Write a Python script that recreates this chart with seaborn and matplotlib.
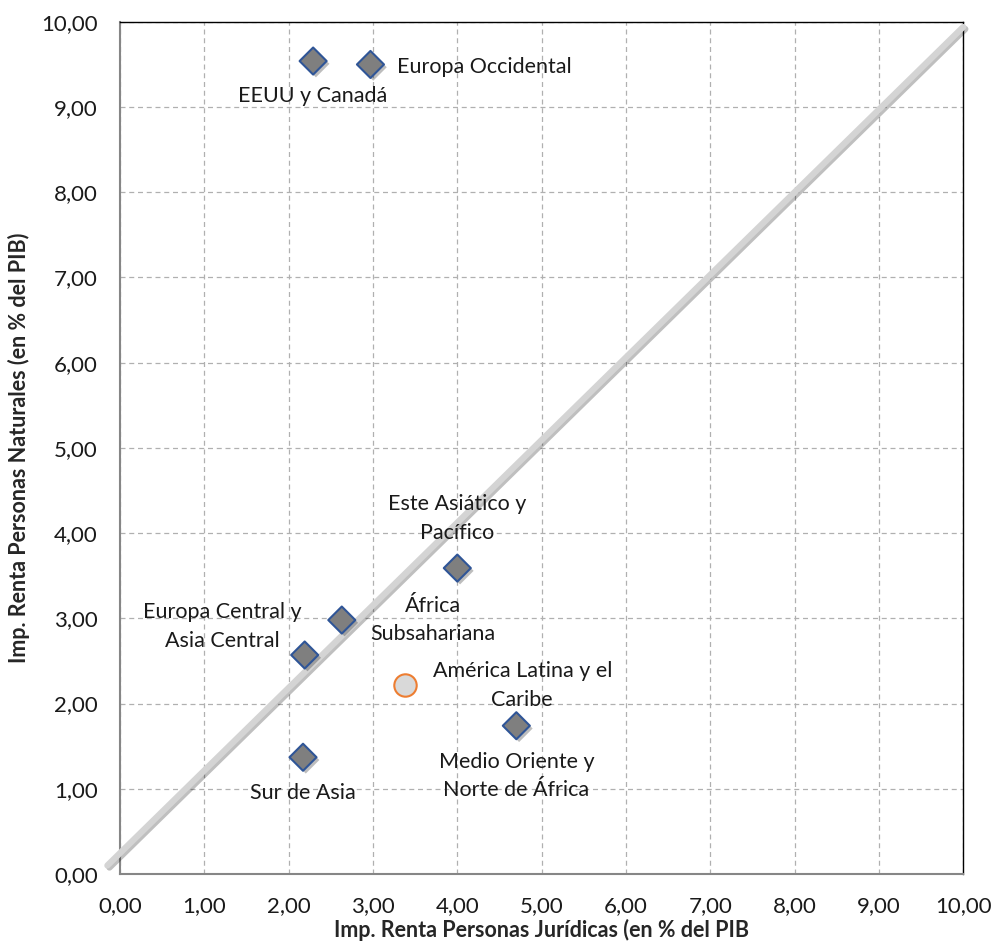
import numpy as np
import pandas as pd
import seaborn as sns
import matplotlib.pyplot as plt
import matplotlib.patheffects as pe
from matplotlib.ticker import FuncFormatter, MultipleLocator

# datos por region (% del PIB)
regiones = ["EEUU y Canadá", "Europa Occidental", "Este Asiático y\nPacífico",
            "África\nSubsahariana", "Europa Central y\nAsia Central",
            "América Latina y el\nCaribe", "Medio Oriente y\nNorte de África",
            "Sur de Asia"]
renta_juridicas = [2.29, 2.97, 4.00, 2.63, 2.19, 3.38, 4.70, 2.17]
renta_naturales = [9.54, 9.50, 3.59, 2.98, 2.57, 2.22, 1.74, 1.37]
grupo = ["otros", "otros", "otros", "otros", "otros", "alc", "otros", "otros"]

# posicion de las etiquetas
lab_x = [2.29, 3.29, 4.00, 3.71, 1.21, 4.77, 4.70, 2.17]
lab_y = [9.13, 9.47, 4.17, 2.98, 2.90, 2.21, 1.15, 0.95]
lab_ha = ["center", "left", "center", "center", "center", "center", "center", "center"]

# linea diagonal
diag_x = [-0.15, 10.0]
diag_y = [0.10, 9.94]

df = pd.DataFrame({"region": regiones, "pj": renta_juridicas,
                   "pn": renta_naturales, "grupo": grupo})

sns.set_style("white")
plt.rcParams['font.family'] = ['Lato', 'DejaVu Sans']

fig = plt.figure(figsize=(9.92, 9.5), dpi=100)
ax = fig.add_axes([0.121, 0.08, 0.85, 0.897])

ax.grid(True, color="#b0b0b0", linestyle=(0, (4, 3)), linewidth=0.9)
ax.set_axisbelow(True)

sns.lineplot(x=diag_x, y=diag_y, ax=ax, color="#d4d4d4", linewidth=4.5,
             clip_on=False, zorder=3,
             path_effects=[pe.SimpleLineShadow(offset=(1.5, -1.5), alpha=0.25),
                           pe.Normal()])

otros = df[df.grupo == "otros"]
alc = df[df.grupo == "alc"]
sns.scatterplot(data=otros, x="pj", y="pn", ax=ax, marker="D", s=190,
                color="#7f7f7f", edgecolor="#2f5597", linewidth=1.5, zorder=4,
                path_effects=[pe.SimplePatchShadow(offset=(2, -2), alpha=0.3),
                              pe.Normal()])
sns.scatterplot(data=alc, x="pj", y="pn", ax=ax, marker="o", s=260,
                color="#d9d9d9", edgecolor="#ed7d31", linewidth=1.5, zorder=4)

for t, x, y, ha in zip(regiones, lab_x, lab_y, lab_ha):
    ax.text(x, y, t, ha=ha, va="center", fontsize=15.5, color="#1a1a1a",
            linespacing=1.55, zorder=5)

ax.set_xlim(0, 10)
ax.set_ylim(0, 10)
ax.xaxis.set_major_locator(MultipleLocator(1))
ax.yaxis.set_major_locator(MultipleLocator(1))
fmt = FuncFormatter(lambda v, p: f"{v:.2f}".replace(".", ","))
ax.xaxis.set_major_formatter(fmt)
ax.yaxis.set_major_formatter(fmt)
ax.tick_params(axis="both", direction="out", length=6, width=1,
               color="#868686", labelsize=16, labelcolor="#1a1a1a")
ax.tick_params(axis="y", pad=10)
ax.tick_params(axis="x", pad=10)

for s in ["left", "bottom"]:
    ax.spines[s].set_color("#868686")
    ax.spines[s].set_linewidth(1.5)
for s in ["top", "right"]:
    ax.spines[s].set_color("black")
    ax.spines[s].set_linewidth(1.0)

ax.set_xlabel("Imp. Renta Personas Jurídicas (en % del PIB", fontsize=15.5,
              fontweight="bold", labelpad=2)
ax.set_ylabel("Imp. Renta Personas Naturales (en % del PIB)", fontsize=15.5,
              fontweight="bold", labelpad=8)

fig.savefig("out.png", dpi=100)
